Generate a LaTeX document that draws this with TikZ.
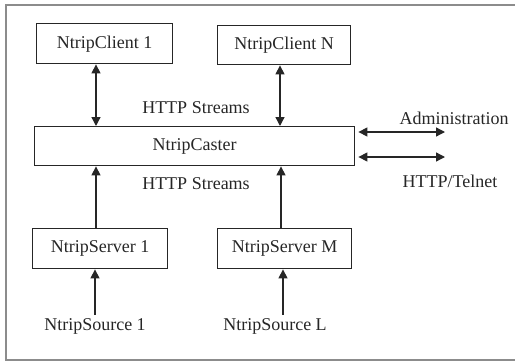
\documentclass[tikz,border=0pt]{standalone}
\usepackage{fontspec}
\setmainfont{Liberation Serif}
\usetikzlibrary{arrows.meta}
\begin{document}
\begin{tikzpicture}[x=1pt,y=-1pt,
  every node/.style={font=\fontsize{18}{20}\selectfont, text=black!85},
  boxnode/.style={draw=black!85, line width=1.4pt, inner sep=0pt, anchor=north west},
  conn/.style={line width=1.3pt, draw=black!85, -{Triangle[length=9pt,width=9pt]}},
  dconn/.style={line width=1.3pt, draw=black!85, {Triangle[length=9pt,width=9pt]}-{Triangle[length=9pt,width=9pt]}}]
\useasboundingbox (0,0) rectangle (515,362);
\draw[black!45, line width=1.6pt] (530,5) -- (6,5) -- (6,360) -- (530,360);
% boxes
\node[boxnode, minimum width=136pt, minimum height=40pt] (c1) at (36,23) {};
\node at (c1.center) {NtripClient 1};
\node[boxnode, minimum width=133pt, minimum height=39pt] (cn) at (217,25) {};
\node at (cn.center) {NtripClient N};
\node[boxnode, minimum width=320pt, minimum height=39pt] (ca) at (34,126) {};
\node at (ca.center) {NtripCaster};
\node[boxnode, minimum width=135pt, minimum height=40pt] (s1) at (32,228) {};
\node at (s1.center) {NtripServer 1};
\node[boxnode, minimum width=134pt, minimum height=40pt] (sm) at (217,228) {};
\node at (sm.center) {NtripServer M};
% labels
\node (h1) at (196,108) {HTTP Streams};
\node (h2) at (196,184) {HTTP Streams};
\node (adm) at (454,118) {Administration};
\node (tel) at (450,181) {HTTP/Telnet};
\node (src1) at (95,326) {NtripSource 1};
\node (srcl) at (275,326) {NtripSource L};
% coordinates for arrow ends
\coordinate (a1) at (445,132);
\coordinate (a2) at (445,157);
% connectors
\draw[dconn] (c1.south -| 96,0) -- (ca.north -| 96,0);
\draw[dconn] (cn.south -| 280,0) -- (ca.north -| 280,0);
\draw[conn] (s1.north -| 96,0) -- (ca.south -| 96,0);
\draw[conn] (sm.north -| 281,0) -- (ca.south -| 281,0);
\draw[conn] (src1.north -| 95,0) -- (s1.south -| 95,0);
\draw[conn] (srcl.north -| 283,0) -- (sm.south -| 283,0);
\draw[dconn] ([xshift=3pt]ca.east |- a1) -- (a1);
\draw[dconn] ([xshift=3pt]ca.east |- a2) -- (a2);
\end{tikzpicture}
\end{document}
